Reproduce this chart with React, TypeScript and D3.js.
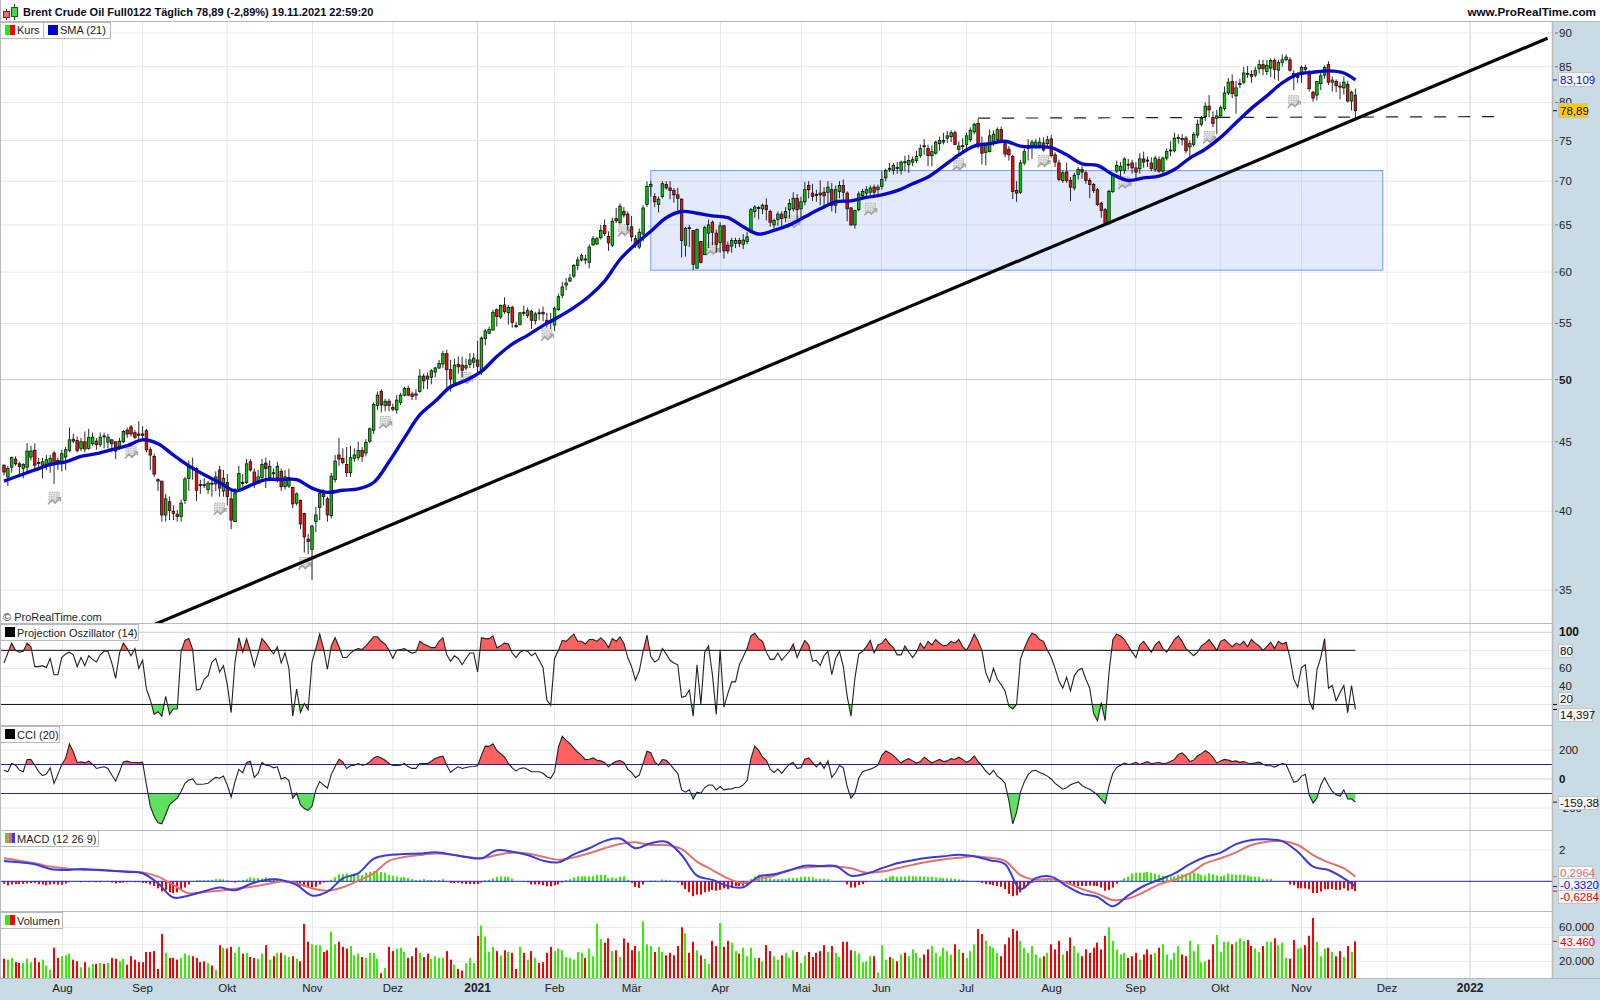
import React from 'react'
import * as d3 from 'd3'

const FONT = '"Liberation Sans", Arial, sans-serif'

// daily bars
const opens = [
  43.25,42.4,43.1,43.7,43.35,43,43.1,43.85,44.35,43.45,
  43.25,43.25,43.3,44.15,43.6,43.45,43.85,44.35,45.2,45.1,
  44.5,45,44.5,44.85,45.05,44.8,45.45,44.97,45.15,45,
  44.6,45,45.9,46.15,45.7,45.6,45.6,45.85,44.4,43.9,
  42.2,42.1,39.75,40.65,40,39.8,39.65,40.75,42.3,43.1,
  43,41.85,41.85,41.5,41.95,41.9,42.9,41.4,42,40.85,
  39.3,41.5,42,42,43.5,42.75,41.95,42.35,43.4,42.35,
  42.7,42.35,42.8,41.7,41.75,41.65,40.55,40.75,39.85,38.15,
  37.5,39.3,40.25,41.2,40.85,39.7,42.2,44,43.75,43.3,
  42.7,43.75,43.8,44.35,44.15,45.05,45.9,47.85,49,47.85,
  48.2,47.7,47.5,48.1,48.7,49.25,48.8,48.8,49,50.3,
  50.3,50.2,50.65,51,51.35,52.25,50.85,49.7,51.3,51.25,
  51,51.3,51.5,51.7,50.85,53.6,54.1,54.4,56.3,55.6,
  56.75,56,56.5,54.8,54.9,56.05,55.75,56.15,55.25,56,
  56.05,55.3,55.2,54.85,56.3,57.7,58.7,59.1,59.6,60.7,
  61.25,61.35,61,62.85,62.95,63.6,64.95,63.75,62.8,65.7,
  65.25,66.5,66.2,64.8,63.5,62.6,64,67.3,69.4,68.2,
  67.3,68.2,69.6,69.2,68.9,68.4,67.9,62.8,64.7,64.4,
  60.4,63.2,61.8,64.1,65.3,64.1,63.1,64.9,62.8,62.7,
  63,63.3,62.9,63.2,64.2,66.5,66.95,66.8,67.2,66.5,
  65,65.6,66.2,65.8,66.7,66.8,68,66.8,67.6,69.5,
  68.6,68.45,68.6,68.7,68.7,69,67.2,68.8,69.5,68.6,
  66.9,65,66.7,68.3,68.6,68.7,69.3,69,69.4,70.4,
  71.55,71.3,71.65,71.3,72.35,72,72.3,72.5,73.1,74.35,
  74,73.1,73.4,74.6,74.8,75.3,75.5,76,73.9,74.35,
  74.5,75.1,76.1,77.2,74.6,73.5,73.6,74.6,75.1,76.4,
  74.6,73.9,73,68.9,68.7,72.2,74,74.2,74.4,74.4,
  74.7,74.6,75.2,73.2,72.2,70.1,71.1,70.1,69.2,70.8,
  71.4,71,70.1,69.6,69,67.4,66.7,65.2,68.8,71.2,
  71.3,71.3,72.05,72.2,71.6,71.5,72.7,72.55,72.2,71.4,
  72.6,71.2,72.8,73.7,73.7,75.3,75.25,75.3,74.2,74.5,
  75.7,77.1,78.1,79.5,78,77.9,78.2,79.2,81.3,82.9,
  80.9,82.55,82.8,84.05,83.9,83.8,84.7,85.3,84.3,84.8,
  85.9,84.5,85.6,86,86,84,83.55,84.2,84.9,84.2,
  81.4,81,82.6,83.8,85.3,82.8,82.9,82.25,82,82.5,80.2,81,
]
const closes = [
  42.75,43,43.8,43.35,43.15,43.3,44.3,44.3,43.25,43.4,
  43.5,43.65,43.75,43.35,43.45,44.1,44.4,45.15,45.05,44.35,
  45,44.45,45.35,45.35,44.8,45.35,45.4,45.35,44.85,44.3,
  45.05,45.8,45.6,45.6,45.35,45.5,45.5,44.4,44,42.6,
  42.1,39.75,40.85,40.05,39.85,39.65,40.55,42.25,43.2,43,
  41.45,41.8,41.8,41.95,41.9,42.4,41.6,42.3,41,39.4,
  41.25,42.65,41.95,43.35,42.9,41.85,42.4,43.3,43,43.15,
  42.65,43.15,41.7,42.4,42.35,40.5,41.2,39.15,38.3,38,
  39,39.75,41.25,41,39.75,42.45,43.55,43.7,43.45,42.7,
  43.8,44,44.35,43.9,44.95,46,47.95,48.7,47.9,48.2,
  47.85,47.55,48.3,48.7,49.25,48.7,48.6,48.7,50.3,49.9,
  50.05,50.75,51,51.4,52.25,50.85,50.05,51.25,51.1,50.8,
  51.2,51.7,51.85,51.15,53.65,54.3,54.45,56.05,55.65,56.7,
  56.1,56.5,55.1,54.7,56,56,56.2,55.3,55.9,55.95,
  55.9,55.05,55.1,56.4,57.55,58.5,58.9,59.4,60.7,61.25,
  61.7,61.25,62.6,63.5,63.5,64.4,64.05,63.05,65.4,65.45,
  67.1,66.1,65.05,63.7,62.8,64.2,66.9,69.4,69.6,67.6,
  67.9,69.7,69.2,68.9,68.4,68,63.3,64.6,64.65,60.8,
  64.5,61,64.7,65,64.2,62.9,64.9,62.2,62.2,63.3,
  63.3,63,63.35,63.7,66.7,67,66.9,67.2,66.7,65.3,
  65.5,66.2,65.7,66.5,67.4,68,66.7,67.6,69,69,
  68.2,68.4,68.4,68.3,69.3,67.2,69,69.5,68.7,66.8,
  65,66.6,68.5,68.8,69,69.2,68.7,69.3,70.2,71.3,
  71.5,71.9,71.6,72.3,72.3,72.5,72.6,73,74,74.3,
  73.1,73.6,74.8,75,75,75.6,76,74.5,74.3,74.3,
  75.6,76.3,77.1,74.6,73.4,74.4,75.6,75.8,76.4,75,
  73.3,73.2,68.8,68.6,72.2,73.6,74.4,74.8,74.8,74.8,
  73.8,75.1,73.1,72.3,70.2,71,70.1,69.3,70.7,71.4,
  71.1,70.1,69.6,68.9,67.3,66.6,65.1,68.8,70.7,71.9,
  71.8,72.7,72,71.6,71.1,72.7,72.3,72.5,71.5,72.8,
  71.2,72.8,73.6,73.8,75.3,75.4,75.2,73.7,74.6,75.8,
  77.1,77.9,79.5,79,77.2,78.2,79.3,81.3,82.8,81.2,
  82,82.6,84.1,84,83.6,84.5,85.3,84.7,85.2,85.9,
  84.6,85.6,86,86.4,84.5,83.6,83.6,84.9,84.6,81.9,
  80.6,82.9,83.7,84.9,82.8,83.1,82.3,82.2,82.8,80.2,81.4,78.89,
]
const highs = [
  43.3,43.2,43.9,43.9,43.5,43.4,44.9,44.7,44.9,43.8,
  43.8,44,44,44.3,43.8,44.4,44.6,46.1,45.6,45.4,
  45.3,45.8,46,45.7,45.3,45.7,45.7,45.6,45.2,45,
  45.3,45.9,46.1,46.3,45.9,46.6,46.2,46,44.6,44.1,
  42.3,42.1,41.2,41,40.4,40.1,40.8,42.4,43.6,43.8,
  43.1,42.2,42.3,42.1,42.2,42.8,43.2,42.9,42.6,41.6,
  41.6,43.2,42.6,43.7,43.7,43,42.9,43.7,43.8,43.6,
  43,43.5,43,42.9,43,41.7,41.3,40.8,39.9,38.5,
  39.1,40.3,41.4,41.5,41,42.7,44,45.3,44.5,44.6,
  44.7,44.5,45,44.6,45.2,46.1,48.1,49,49.2,48.4,
  48.4,48,48.7,48.9,49.4,49.5,49,49.2,50.9,50.5,
  50.6,50.9,51.1,51.7,52.5,52.6,51.7,51.8,52,52,
  51.8,52.3,52.3,53.4,53.8,54.5,54.7,56.3,56.4,56.8,
  57.5,56.75,56.7,55.15,56.05,56.7,56.5,56.3,56.1,56.4,
  56.6,56,56,56.6,57.85,59,59.4,59.8,60.8,61.6,
  61.9,61.8,62.9,63.8,63.7,65,65.6,64.3,65.8,66.9,
  67.4,67,66.5,66,63.9,64.6,67.2,70,70,68.6,
  68.2,70,70,70,69.2,69.2,68,64.8,65,64.4,
  64.6,63.2,64.9,65.6,65.5,64.5,65.3,65,63.2,63.6,
  63.6,63.6,64,64.2,66.9,67.2,67.1,67.4,68,66.7,
  65.7,66.5,66.5,67,67.9,68.7,68.5,68.2,69.9,70,
  69.7,69,70.1,69.3,70,69.8,69.5,70,70.2,68.8,
  67,66.7,68.8,69.1,69.4,69.5,69.6,69.6,71.2,71.5,
  72.2,72.2,72.3,72.5,73.1,73.2,73,73.7,74.5,75.2,
  74.5,74.4,75,75.5,76,76.2,76.3,76.3,74.9,75.3,
  76,76.7,77.3,77.8,75.5,74.7,76.4,76.3,76.7,76.8,
  75,74.3,73.2,70,72.6,74,75.2,75.1,75.2,75.4,
  75.4,75.6,75.7,73.5,72.6,71.3,72.2,70.5,71,71.7,
  71.8,71.3,70.4,69.8,69.2,67.6,66.9,69,70.9,72.5,
  72.3,72.9,72.7,72.6,72.3,73.4,73.6,73,72.9,73.1,
  73,73,74,74.9,76,75.8,75.8,75.6,75,76.1,
  77.7,78.2,80,81,78.8,79,79.6,82.2,83.4,83.9,
  83,83.3,85,85.1,84.5,85,86,86,86,86.2,
  86.2,86,86.8,86.8,86.4,84.5,84.2,85.2,85.3,84.5,
  81.6,83,84.1,85.2,85.8,83.6,83.2,82.8,83.6,83,81.6,81.9,
]
const lows = [
  42.5,41.75,42.7,43.2,42.6,42.3,42.8,43.6,43,43,
  42.3,42.9,42.7,41.9,42.9,42.8,42.9,44.2,44.9,44.2,
  44.3,44.2,44.4,44.7,44.4,44.6,44.5,44.5,44.2,43.7,
  44.4,44.9,45.3,45.4,45.2,45,45.1,44.2,42.9,42.4,
  41.4,39.3,39.3,39.4,39.4,39.3,39.3,40.5,41.4,42.2,
  40.7,41.2,41.6,41.2,41,41.4,41,41,40.4,38.8,
  39.3,41.5,41.7,41.9,42.8,41.6,41.9,42.2,41.6,42.2,
  42.3,42,41.4,41.5,41.6,40.2,40.4,38.8,37.3,37.2,
  35.6,38.6,39.4,40.4,39.3,39.5,42,43.2,43.3,42.4,
  42.4,43.5,43.6,43.5,43.9,44.9,45.6,47.5,47.3,47.4,
  47.4,47.4,47.2,47.9,48.6,48.6,48.3,48.3,48.9,49.2,
  49.2,49.6,50.2,50.9,51,49.2,49,49.6,50.5,50.2,
  50.8,51,51,50.4,50.4,53,54,54.3,54.7,55.4,
  55.9,54.9,54.6,54.55,54.8,55.7,55.5,54.5,54.9,55.3,
  55.2,54.6,54.5,54.3,56.2,57.4,58.2,59,59.4,60.2,
  61.1,60.8,60.4,62.7,62.8,63.4,63.8,62.2,62.6,65.2,
  65.1,65.8,64.4,63.2,62.5,62.4,63.2,67,68.2,67,
  66.4,68,69,67.9,67.5,66.6,61.5,61.6,62.6,60.2,
  60.4,60.9,61.8,62.5,62.8,62,62,61.4,61.9,62,
  62.5,62.6,62.4,62.9,64.1,65.8,65.6,66.2,65.5,64.8,
  64.6,64.9,64.9,65.3,65.7,66.5,65.6,65.7,67.2,68,
  67.7,67.6,67.2,66.9,67.3,66.5,66.3,68,67.5,65.4,
  64.9,64.6,66.5,68,68.2,68.3,68.3,68.4,69,70,
  71.1,70.8,70.9,70.8,71.2,71,71.8,72.2,72.8,73.2,
  71.8,71.8,73.2,73.7,74.5,74.7,74.8,74.4,73.1,73.4,
  74,74.8,75.8,74,72,71.9,73.5,74.3,74.9,74.7,
  72.9,72.5,67.9,67.6,68.5,71.9,72.5,72.7,74,74,
  73.6,74.2,72.9,71.7,70,69.8,69.8,67.7,68.9,70.2,
  70.3,69.7,68,68.6,67.1,65.8,64.9,65,68.6,71,
  70.5,70.9,71.4,70.9,70.2,70.9,71.6,71.7,71.2,71.1,
  71,71,72.5,73,73.5,74.6,74.4,73.4,72.9,74.2,
  75.3,76.8,77.5,78,76.7,75.8,77.9,78.9,81,80.6,
  78.5,82,82.5,83.4,82.7,83.5,84,83.8,83.8,83.5,
  83.2,83,85,85.8,84.3,81.7,82.7,82.7,84,81.5,
  80.1,80.3,81.7,83.3,82.4,81.5,81.4,80.4,81.1,80,78.9,77.8,
]

// line series are read every fourth bar plus the last one
const sampledBars = [...d3.range(0, 349, 4), 351]
const sma21 = [
  42.1,42.5,42.9,43.3,43.5,43.9,44.1,44.4,44.7,45.15,44.85,44,43.2,42.55,42,41.4,41.8,42.2,42.2,42.2,
  41.6,41.3,41.45,41.55,42,43.5,45.3,47.1,48.2,49.4,49.95,50.7,52,53.1,53.9,54.8,55.6,56.5,57.6,59.1,
  61.3,62.9,64.3,65.8,66.5,66.3,66,65.8,64.8,64,64.4,65,65.9,66.8,67.6,67.7,68.1,68.4,68.9,69.7,
  70.5,71.8,73.2,74.3,74.6,74.9,74.3,74.2,74.1,73.2,72.1,71.9,70.8,70.1,70.4,70.6,71.4,72.8,73.9,75.4,
  77.3,79.2,80.9,82.7,83.9,84.2,84.4,84.1,83.109,
]
const macdLine = [
  1.3,1.21,1.09,.79,.72,.79,.74,.68,.6,.51,-.13,-1.04,-.91,-.64,-.4,-.57,-.17,.09,.09,-.23,
  -.91,-.66,.19,.51,1.43,1.68,1.74,1.77,1.85,1.72,1.55,1.47,1.98,1.89,1.68,1.32,1.21,1.72,2.11,2.57,
  2.74,2.11,2.43,2.53,1.68,.36,.09,-.3,-.38,.3,.45,.7,1,.98,.98,.36,.49,.83,1.15,1.35,
  1.5,1.6,1.7,1.6,1.35,1.1,-.5,.2,.3,-.3,-.8,-1,-1.6,-.9,-.3,.1,.5,1.1,1.55,1.83,
  2.38,2.64,2.68,2.57,1.89,.94,.72,.19,-.33,
]
const signalLine = [
  1.47,1.32,1.15,.94,.83,.74,.72,.66,.64,.57,.3,-.23,-.77,-.68,-.6,-.47,-.36,-.19,-.02,-.13,
  -.45,-.6,-.38,.04,.51,1.3,1.55,1.68,1.77,1.72,1.57,1.47,1.68,1.83,1.77,1.57,1.38,1.53,1.79,2.11,
  2.38,2.49,2.32,2.32,2.06,1.26,.72,.19,-.11,.15,.36,.72,.87,.94,.94,.83,.55,.62,.83,1.05,
  1.25,1.4,1.5,1.6,1.5,1.3,.4,.1,.15,-.1,-.5,-.8,-1.2,-1.1,-.7,-.2,.1,.5,1.15,1.47,
  1.85,2.32,2.53,2.57,2.32,1.68,1.21,.83,.2964,
]

const oscillator = [
  66,77,88,80,78,79,88,84,62,62,63,61,71,53,53,72,76,78,75,62,
  72,63,74,70,67,75,79,79,66,49,77,88,82,74,82,60,69,37,25,9,
  12,7,29,9,15,15,79,91,93,81,36,37,48,52,67,71,56,63,42,11,
  67,94,78,93,79,62,77,93,88,82,76,84,66,77,60,7,37,11,21,14,
  67,82,98,82,59,85,94,84,72,72,77,80,82,81,85,90,95,95,90,87,
  80,71,80,81,82,79,77,78,90,87,85,83,83,90,94,75,68,74,71,64,
  71,77,77,56,94,93,93,96,83,85,88,87,77,72,78,80,79,74,77,69,
  61,25,19,71,80,91,90,94,98,90,90,87,92,92,90,94,90,83,93,90,
  95,88,72,62,47,57,79,97,73,67,70,82,76,69,66,64,28,29,36,7,
  64,20,78,85,53,9,81,17,32,45,45,64,73,82,96,99,93,90,78,70,
  70,77,69,74,79,87,72,82,91,86,68,69,63,74,79,53,71,79,62,29,
  7,49,76,79,84,91,77,86,88,93,87,83,75,
  75,85,78,72,78,88,82,90,86,92,88,85,86,90,88,92,84,80,88,98,90,80,55,45,60,48,42,35,18,15,20,70,
  82,92,99,97,92,90,80,72,60,46,38,50,35,52,58,60,48,38,10,2,22,2,55,92,98,96,92,85,78,72,86,
  90,84,78,86,90,82,78,85,92,96,90,82,78,74,78,85,88,92,86,80,90,92,88,84,88,86,90,84,
  92,88,85,80,84,89,82,90,87,89,72,48,39,61,64,24,14,58,72,93,38,41,24,33,41,11,41,14.397,
]

const cci = [
  61,50,107,95,61,50,134,134,95,50,23,34,77,-30,32,100,141,243,186,114,
  118,111,123,102,73,79,84,73,27,-14,50,118,123,116,114,111,116,-41,-188,-257,
  -302,-309,-245,-177,-154,-132,-86,-30,-7,0,-36,-36,-34,-30,-7,11,5,20,-41,-125,
  -18,66,43,114,123,11,39,114,95,91,77,84,0,11,-11,-132,-98,-177,-204,-216,
  -188,-75,-18,-41,-64,32,84,136,118,73,91,95,107,95,100,118,145,157,145,129,
  107,93,93,95,107,84,73,73,107,107,107,123,141,152,157,95,45,68,84,73,
  79,84,86,91,163,227,225,243,197,
  175,152,107,77,54,73,77,66,50,50,50,39,16,5,50,220,295,266,243,213,186,163,134,136,145,129,125,114,84,107,
  123,127,114,68,45,11,27,107,191,182,118,95,134,129,102,68,39,-75,-91,-75,-138,-91,-98,-59,-41,-41,-75,-52,-75,-70,
  -68,-59,-57,-41,-11,141,227,197,152,129,68,45,68,39,73,102,114,73,77,136,145,114,84,114,73,125,11,45,95,77,
  -52,-132,-98,5,50,61,68,79,95,163,193,179,163,136,
  110,130,140,125,110,120,150,130,110,125,135,120,125,140,135,150,135,115,130,160,120,90,55,30,60,20,0,-30,-150,-310,-230,-90,
  -20,30,55,60,45,35,20,0,-30,-50,-70,-60,-40,-30,-20,-45,-60,-70,-90,-110,-140,-170,-50,40,80,95,110,100,105,115,
  100,110,120,105,110,115,105,110,120,135,170,180,155,120,130,160,175,195,180,150,110,125,135,130,120,125,115,120,110,
  107,111,116,102,91,91,82,95,107,100,39,-23,-14,20,32,-109,-166,-132,-41,9,-41,-86,-109,-120,-75,-138,-136,-159.38,
]

const macdHist = [
  -.16,-.26,-.2,-.18,-.18,-.16,-.14,-.12,-.1,-.18,-.2,-.26,-.2,-.18,-.2,-.22,-.14,-.06,.02,-.02,
  -.06,-.01,-.05,0,-.06,-.06,0,-.04,-.08,-.14,-.1,-.08,-.06,-.05,-.06,-.06,-.1,-.12,-.2,-.3,
  -.45,-.65,-.55,-.7,-.75,-.7,-.55,-.4,-.2,.02,.06,.07,.07,.08,.1,.14,.14,.12,.06,-.02,
  -.08,.05,.1,.14,.25,.2,.2,.18,.25,.2,.2,.2,.1,.05,-.05,-.1,-.25,-.3,-.35,-.4,
  -.4,-.35,-.2,-.08,-.05,.1,.25,.45,.45,.5,.45,.5,.4,.4,.55,.6,.65,.65,.6,.55,
  .4,.35,.3,.25,.28,.2,.14,.08,.1,.14,.08,.08,.08,.08,.14,.01,-.1,-.1,-.1,-.14,
  -.18,-.18,-.18,-.18,-.08,.08,.1,.2,.28,.32,.3,.28,.18,0,0,-.04,-.06,-.2,-.2,-.2,
  -.25,-.32,-.32,-.25,-.2,-.08,.08,.14,.25,.32,.32,.32,.32,.32,.42,.42,.42,.2,.25,.2,
  .3,.32,.1,-.1,-.35,-.42,-.2,0,.05,.05,0,.12,.1,.06,-.02,-.08,-.25,-.5,-.7,-.95,
  -.85,-.85,-.7,-.65,-.55,-.6,-.55,-.45,-.5,-.4,-.3,-.3,-.28,-.3,.14,.3,.42,.4,.32,.2,
  .14,.14,.14,.14,.2,.22,.22,.28,.3,.28,.25,.16,.16,.16,.14,0,0,0,0,-.2,
  -.4,-.4,-.25,-.18,-.06,0,0,0,.1,.2,.3,.35,.28,
  .3,.3,.35,.32,.3,.32,.3,.28,.28,.25,.22,.2,.2,.18,.15,.12,.1,.05,.02,0,-.05,-.1,-.18,-.2,-.25,-.3,-.35,
  -.5,-.8,-.95,-.9,-.7,-.45,-.25,-.1,.02,.1,.15,.15,.12,.05,-.05,-.1,-.15,-.22,-.25,-.3,-.3,-.3,-.28,-.3,-.3,-.4,-.6,-.55,
  -.4,-.15,.05,.2,.3,.5,.55,.55,.55,.6,.55,.5,.42,.35,.32,.3,.32,.4,.45,.48,.5,.55,.5,
  .4,.38,.52,.45,.38,.33,.38,.5,.45,.42,.42,.42,.35,.3,.3,.3,.15,.15,.15,0,0,0,0,
  -.2,-.25,-.45,-.45,-.45,-.5,-.75,-.75,-.65,-.5,-.5,-.5,-.55,-.55,-.45,-.6,-.5,-.6284,
]

// thousands of contracts
const volumes = [
  23,22,24,19,18,18,23,19,24,19,22,15,10,36,24,26,27,29,22,20,13,19,13,17,17,18,17,18,24,23,20,23,16,26,22,19,19,31,31,32,11,
  52,30,24,24,22,24,29,27,26,24,19,20,18,15,10,39,36,35,37,30,37,29,30,25,24,23,29,39,22,26,30,30,27,25,26,23,20,64,
  43,40,39,39,31,33,55,40,43,37,35,38,27,29,25,24,30,30,23,
  6,12,37,32,35,36,31,24,26,36,30,25,29,23,26,24,24,32,22,16,11,9,18,24,18,50,62,49,31,37,32,
  27,33,31,30,11,37,30,22,32,24,18,19,30,37,32,35,33,25,24,22,31,30,24,35,26,64,46,42,47,32,33,25,47,42,33,38,32,67,40,38,
  31,37,31,27,30,27,38,60,53,30,43,33,27,23,17,44,38,65,37,44,42,32,29,36,26,36,24,24,20,39,32,26,22,27,30,24,33,31,18,27,
  31,25,30,32,39,31,38,30,25,43,43,33,32,29,19,20,26,26,7,39,22,25,23,20,
  28,30,26,34,30,24,28,34,38,30,26,36,32,28,40,34,30,24,32,40,58,52,44,38,36,30,26,40,48,58,56,44,36,30,38,28,24,26,30,40,
  34,44,28,32,48,38,30,26,34,30,36,42,34,50,60,44,34,28,30,24,26,30,22,28,34,28,30,36,40,28,22,30,38,28,26,44,32,40,
  19,20,22,40,51,31,43,43,40,43,47,44,45,38,35,31,38,43,43,47,39,42,24,23,45,35,36,39,50,71,43,26,35,36,31,26,32,25,38,31,43.46,
]

// axis ticks
const monthTickBars = [15.2, 36, 58, 80.1, 101, 123, 143, 163, 186.1, 207.1, 227.9, 250, 272.1, 293.9, 315.9, 337, 359.2, 380.8]
const monthLabels = ['Aug', 'Sep', 'Okt', 'Nov', 'Dez', '2021', 'Feb', 'Mär', 'Apr', 'Mai', 'Jun', 'Jul', 'Aug', 'Sep', 'Okt', 'Nov', 'Dez', '2022']
const priceTicks = [90, 85, 80, 75, 70, 65, 60, 55, 50, 45, 40, 35]
const oscTicks = [100, 80, 60, 40, 20]
const cciTicks = [200, 0, -200]
const volTicks = [60, 40, 20]

// drawings on the price pane, as [bar, price]
const zoneCorners = [[168, 71.27], [358.1, 60.2]]
const trendPoints = [[35.6, 32.7], [400.9, 89.2]]
const resistancePoints = [[253, 77.9], [387.3, 78.1]]
const eventBars = [13, 33, 56, 78, 99, 120, 141, 161, 184, 205, 225, 248, 270, 291, 313, 335]
const eventPrices = [40.9, 44.2, 40.15, 36.6, 46.5, 50.1, 53.95, 64.4, 62.4, 65.3, 66.75, 72, 72.4, 69.8, 75.4, 80.1]

const AXIS_LEFT = 1552
const GRID = '#e6eaec'
const GRID_DARK = '#c9cdd0'
const SEP = '#b9b9b9'
const AXIS_BG = '#c9dbe5'

const x = d3.scaleLinear().domain([0, 351]).range([4, 1355.4])
const yPrice = d3.scaleLog().domain([35, 90]).range([590, 33])
const yOsc = d3.scaleLinear().domain([0, 100]).range([722.5, 632.3])
const yCci = d3.scaleLinear().domain([-200, 200]).range([808, 750])
const yMacd = d3.scaleLinear().domain([0, 2]).range([881.3, 850])
const yVol = d3.scaleLinear().domain([0, 60]).range([978.3, 927.3])

const isUp = (i: number) => closes[i] >= opens[i]

const Label = ({ px, py, text, color = '#111', bold = false, anchor = 'start', size = 11.5 }: any) => (
  <text x={px} y={py} fill={color} fontSize={size} fontWeight={bold ? 700 : 400} textAnchor={anchor} fontFamily={FONT}>
    {text}
  </text>
)

// white tag on the axis with the last value
const ValueTag = ({ top, text, color = '#111', width, bg = '#f4f6f7', h = 14 }: any) => (
  <g>
    <rect x={1558.5} y={top + 0.5} width={width} height={h} fill={bg} stroke="#c4c4c4" />
    <Label px={1560} py={top + h - 2.5} text={text} color={color} />
  </g>
)

const PaneLegend = ({ top, width, text, swatch }: any) => (
  <g>
    <rect x={0.5} y={top + 0.5} width={width} height={16} fill="#fff" stroke={SEP} />
    {swatch}
    <Label px={17} py={top + 13} text={text} color="#222" size={11} />
  </g>
)

const Swatch = ({ top, colors, left = 5 }: any) => {
  const w = 10 / colors.length
  return (
    <g>
      {colors.map((c: string, i: number) => (
        <rect key={i} x={left + i * w} y={top + 4} width={w} height={10} fill={c} />
      ))}
    </g>
  )
}

const EventIcon = ({ px, py }: any) => (
  <g transform={`translate(${px - 6.5},${py - 6.5})`} fill="none" stroke="#a8a8a8">
    <rect x={1.5} y={0.5} width={10} height={9} fill="#ececec" strokeDasharray="1.5 1" />
    <path d="M1.5 2.5H11.5M1.5 5H11.5M1.5 7.5H11.5M4 2.5V9.5M6.5 2.5V9.5M9 2.5V9.5" stroke="#c2c2c2" strokeWidth={0.7} />
    <path d="M0.5 12.5L4.5 8.5L7.5 11.5L12.5 6" strokeWidth={1.5} stroke="#a0a0a0" />
    <path d="M9.5 6H13V9.5" strokeWidth={1.2} stroke="#a0a0a0" />
  </g>
)

// indicator line with the part beyond a level filled in
const ThresholdArea = ({ id, values, y, level, side, color, top, bottom }: any) => {
  const area = d3
    .area<number>()
    .x((_, i) => x(i))
    .y0(y(level))
    .y1((d) => y(d))
  const clipY = side === 'above' ? top : y(level)
  const clipH = side === 'above' ? y(level) - top : bottom - y(level)
  return (
    <g>
      <clipPath id={id}>
        <rect x={0} y={clipY} width={AXIS_LEFT} height={clipH} />
      </clipPath>
      <path d={area(values) as string} fill={color} clipPath={`url(#${id})`} />
    </g>
  )
}

export default function App() {
  const smaPath = d3
    .line<number>()
    .x((_, i) => x(sampledBars[i]))
    .y((d) => yPrice(d))
    .curve(d3.curveCatmullRom)(sma21) as string

  const macdGen = d3
    .line<number>()
    .x((_, i) => x(sampledBars[i]))
    .y((d) => yMacd(d))
    .curve(d3.curveCatmullRom)

  const indicatorGen = (y: any) =>
    d3
      .line<number>()
      .x((_, i) => x(i))
      .y((d) => y(d))

  const priceLine = d3
    .line<number[]>()
    .x((d) => x(d[0]))
    .y((d) => yPrice(d[1]))

  const zone = {
    x: x(zoneCorners[0][0]),
    y: yPrice(zoneCorners[0][1]),
    w: x(zoneCorners[1][0]) - x(zoneCorners[0][0]),
    h: yPrice(zoneCorners[1][1]) - yPrice(zoneCorners[0][1]),
  }

  return (
    <svg width={1600} height={1000} style={{ position: 'fixed', left: 0, top: 0, background: '#fff' }}>
      <clipPath id="pricePane">
        <rect x={0} y={22} width={AXIS_LEFT} height={601} />
      </clipPath>

      {/* grid */}
      {monthTickBars.map((b, i) => (
        <line
          key={i}
          x1={x(b)}
          x2={x(b)}
          y1={22}
          y2={978}
          stroke={monthLabels[i].length === 4 ? GRID_DARK : GRID}
          strokeWidth={1}
        />
      ))}
      {priceTicks.map((t) => (
        <line key={t} x1={0} x2={AXIS_LEFT} y1={yPrice(t)} y2={yPrice(t)} stroke={t === 50 ? GRID_DARK : GRID} />
      ))}
      {oscTicks.map((t) => (
        <line key={t} x1={0} x2={AXIS_LEFT} y1={yOsc(t)} y2={yOsc(t)} stroke={t === 100 ? '#cfd3d5' : GRID} />
      ))}
      {cciTicks.map((t) => (
        <line key={t} x1={0} x2={AXIS_LEFT} y1={yCci(t)} y2={yCci(t)} stroke={t === 0 ? '#cfd3d5' : GRID} />
      ))}
      <line x1={0} x2={AXIS_LEFT} y1={yMacd(2)} y2={yMacd(2)} stroke={GRID} />
      {volTicks.map((t) => (
        <line key={t} x1={0} x2={AXIS_LEFT} y1={yVol(t)} y2={yVol(t)} stroke={GRID} />
      ))}

      {/* price pane */}
      <rect x={zone.x} y={zone.y} width={zone.w} height={zone.h} fill="#648cf0" fillOpacity={0.18} stroke="#6e9bff" strokeWidth={1} />

      {eventBars.map((b, i) => (
        <EventIcon key={b} px={x(b)} py={yPrice(eventPrices[i])} />
      ))}

      {opens.map((o, i) => {
        const cx = x(i)
        const top = yPrice(Math.max(o, closes[i]))
        const bottom = yPrice(Math.min(o, closes[i]))
        return (
          <g key={i}>
            <line x1={cx} x2={cx} y1={yPrice(highs[i])} y2={yPrice(lows[i])} stroke="#111" strokeWidth={0.9} />
            <rect
              x={cx - 1.25}
              y={top}
              width={2.5}
              height={Math.max(bottom - top, 1)}
              fill={isUp(i) ? '#00d000' : '#f01010'}
              stroke="#111"
              strokeWidth={0.8}
            />
          </g>
        )
      })}

      <path d={smaPath} fill="none" stroke="#0808c8" strokeWidth={3.4} />
      <g clipPath="url(#pricePane)">
        <path d={priceLine(trendPoints) as string} fill="none" stroke="#050505" strokeWidth={3.2} />
        <path d={priceLine(resistancePoints) as string} fill="none" stroke="#222" strokeWidth={1.2} strokeDasharray="12 12" />
      </g>
      <Label px={3} py={621} text="© ProRealTime.com" color="#222" size={11} />

      {/* projection oscillator */}
      <ThresholdArea id="oscUp" values={oscillator} y={yOsc} level={80} side="above" color="#ff6060" top={624} bottom={725} />
      <ThresholdArea id="oscDown" values={oscillator} y={yOsc} level={20} side="below" color="#60e060" top={624} bottom={725} />
      <line x1={0} x2={x(351)} y1={yOsc(80)} y2={yOsc(80)} stroke="#111" strokeWidth={1} />
      <line x1={0} x2={x(351)} y1={yOsc(20)} y2={yOsc(20)} stroke="#111" strokeWidth={1} />
      <path d={indicatorGen(yOsc)(oscillator) as string} fill="none" stroke="#222" strokeWidth={1.1} />

      {/* cci */}
      <ThresholdArea id="cciUp" values={cci} y={yCci} level={100} side="above" color="#ff6060" top={726} bottom={830} />
      <ThresholdArea id="cciDown" values={cci} y={yCci} level={-100} side="below" color="#60e060" top={726} bottom={830} />
      <line x1={0} x2={AXIS_LEFT} y1={yCci(100)} y2={yCci(100)} stroke="#2020c8" strokeWidth={1} />
      <line x1={0} x2={AXIS_LEFT} y1={yCci(-100)} y2={yCci(-100)} stroke="#2020c8" strokeWidth={1} />
      <path d={indicatorGen(yCci)(cci) as string} fill="none" stroke="#222" strokeWidth={1.1} />

      {/* macd */}
      {macdHist.map((v, i) =>
        v === 0 ? null : (
          <rect
            key={i}
            x={Math.round(x(i)) - 1}
            y={Math.min(yMacd(v), yMacd(0))}
            width={2}
            height={Math.abs(yMacd(v) - yMacd(0))}
            fill={v > 0 ? '#33f000' : '#f80000'}
          />
        ),
      )}
      <line x1={0} x2={AXIS_LEFT} y1={yMacd(0)} y2={yMacd(0)} stroke="#2020d8" strokeWidth={1} />
      <path d={macdGen(signalLine) as string} fill="none" stroke="#e07272" strokeWidth={2} />
      <path d={macdGen(macdLine) as string} fill="none" stroke="#3a3ae0" strokeWidth={2} />

      {/* volume */}
      {volumes.map((v, i) => (
        <rect
          key={i}
          x={Math.round(x(i)) - 1}
          y={yVol(v)}
          width={2}
          height={yVol(0) - yVol(v)}
          fill={isUp(i) ? '#33f000' : '#f80000'}
        />
      ))}

      {/* frame */}
      <rect x={0} y={0} width={1600} height={21} fill="#fff" />
      <line x1={0} x2={1600} y1={21.5} y2={21.5} stroke={SEP} />
      <line x1={0.5} x2={0.5} y1={0} y2={1000} stroke={SEP} />
      {[623.5, 725.5, 830.5, 911.5].map((sy) => (
        <line key={sy} x1={0} x2={AXIS_LEFT} y1={sy} y2={sy} stroke={SEP} strokeWidth={1} />
      ))}
      <rect x={AXIS_LEFT} y={22} width={48} height={978} fill={AXIS_BG} />
      <rect x={0} y={978} width={1600} height={22} fill={AXIS_BG} />
      <line x1={0} x2={1600} y1={978.5} y2={978.5} stroke={SEP} />
      <line x1={AXIS_LEFT + 0.5} x2={AXIS_LEFT + 0.5} y1={22} y2={978} stroke={SEP} strokeWidth={1.5} />

      {/* title bar */}
      <g stroke="#7a2020" strokeWidth={1}>
        <line x1={6.5} x2={6.5} y1={9} y2={20} />
        <rect x={3.5} y={11.5} width={6} height={6} fill="#f07070" />
      </g>
      <g stroke="#106010" strokeWidth={1}>
        <line x1={14.5} x2={14.5} y1={4} y2={20} />
        <rect x={11.5} y={7.5} width={6} height={9} fill="#50d050" />
      </g>
      <Label px={23} py={16} text="Brent Crude Oil Full0122 Täglich 78,89 (-2,89%) 19.11.2021 22:59:20" bold size={11} color="#0a0a1a" />
      <Label px={1596} py={16} text="www.ProRealTime.com" bold size={11.7} anchor="end" color="#0a0a1a" />

      {/* pane legends */}
      <g>
        <rect x={0.5} y={22.5} width={43} height={16} fill="#fff" stroke={SEP} />
        <Swatch top={21} colors={['#00ff00', '#ff0000']} />
        <Label px={17} py={34} text="Kurs" color="#222" size={11} />
        <rect x={43.5} y={22.5} width={67} height={16} fill="#fff" stroke={SEP} />
        <Swatch top={21} colors={['#0000cc']} left={48} />
        <Label px={60} py={34} text="SMA (21)" color="#222" size={11} />
      </g>
      <PaneLegend top={624} width={138} text="Projection Oszillator (14)" swatch={<Swatch top={623} colors={['#000']} />} />
      <PaneLegend top={726} width={59} text="CCI (20)" swatch={<Swatch top={725} colors={['#000']} />} />
      <PaneLegend top={830} width={98} text="MACD (12 26 9)" swatch={<Swatch top={829} colors={['#66cc33', '#e06060', '#3a3ae0']} />} />
      <PaneLegend top={912} width={62} text="Volumen" swatch={<Swatch top={911} colors={['#33f000', '#f80000']} />} />

      {/* right axis */}
      {priceTicks.map((t) => (
        <g key={t}>
          <line x1={1555} x2={1558} y1={yPrice(t)} y2={yPrice(t)} stroke="#777" />
          <Label px={1559} py={yPrice(t) + 4} text={t} bold={t === 50} color="#222" />
        </g>
      ))}
      <line x1={1553} x2={1557} y1={yPrice(83.109)} y2={yPrice(83.109)} stroke="#1010d0" />
      <ValueTag top={72} text="83,109" color="#1010d0" width={34} bg="#f2f4f6" />
      <line x1={1553} x2={1557} y1={yPrice(78.89)} y2={yPrice(78.89)} stroke="#111" />
      <ValueTag top={103} text="78,89" width={29} bg="#ffcc00" />

      <Label px={1559} py={yOsc(100) + 4} text="100" bold size={12} />
      <ValueTag top={644} text="80" width={14} h={13} bg="#eef2f4" />
      <Label px={1559} py={yOsc(60) + 4} text="60" color="#222" />
      <Label px={1559} py={yOsc(40) + 4} text="40" color="#222" />
      <ValueTag top={692} text="20" width={14} h={13} bg="#eef2f4" />
      <line x1={1553} x2={1557} y1={yOsc(20)} y2={yOsc(20)} stroke="#111" />
      <line x1={1553} x2={1557} y1={yOsc(14.397)} y2={yOsc(14.397)} stroke="#111" />
      <ValueTag top={708} text="14,397" width={34} h={13} />

      <Label px={1559} py={yCci(200) + 4} text="200" color="#222" />
      <Label px={1559} py={yCci(0) + 4} text="0" bold />
      <Label px={1559} py={yCci(-200) + 4} text="-200" color="#222" />
      <line x1={1553} x2={1557} y1={yCci(-159.38)} y2={yCci(-159.38)} stroke="#111" />
      <ValueTag top={796} text="-159,38" width={39} h={13} />

      <Label px={1559} py={yMacd(2) + 4} text="2" color="#222" />
      <line x1={1553} x2={1557} y1={yMacd(0.2964)} y2={yMacd(0.2964)} stroke="#e07272" />
      <ValueTag top={866} text="0,2964" color="#e07272" width={34} h={13} />
      <line x1={1553} x2={1557} y1={yMacd(-0.332)} y2={yMacd(-0.332)} stroke="#1010d0" />
      <ValueTag top={878} text="-0,3320" color="#1010d0" width={38} h={13} />
      <line x1={1553} x2={1557} y1={yMacd(-0.6284)} y2={yMacd(-0.6284)} stroke="#f00" />
      <ValueTag top={890} text="-0,6284" color="#f00000" width={38} h={13} />

      <Label px={1559} py={yVol(60) + 4} text="60.000" color="#222" />
      <line x1={1553} x2={1557} y1={yVol(43.46)} y2={yVol(43.46)} stroke="#f00" />
      <ValueTag top={935} text="43.460" color="#f00000" width={34} h={13} />
      <Label px={1559} py={yVol(20) + 4} text="20.000" color="#222" />

      {/* months */}
      {monthTickBars.map((b, i) => (
        <Label key={i} px={x(b)} py={992} text={monthLabels[i]} anchor="middle" bold={monthLabels[i].length === 4} size={monthLabels[i].length === 4 ? 12 : 11.5} color="#222" />
      ))}
    </svg>
  )
}
